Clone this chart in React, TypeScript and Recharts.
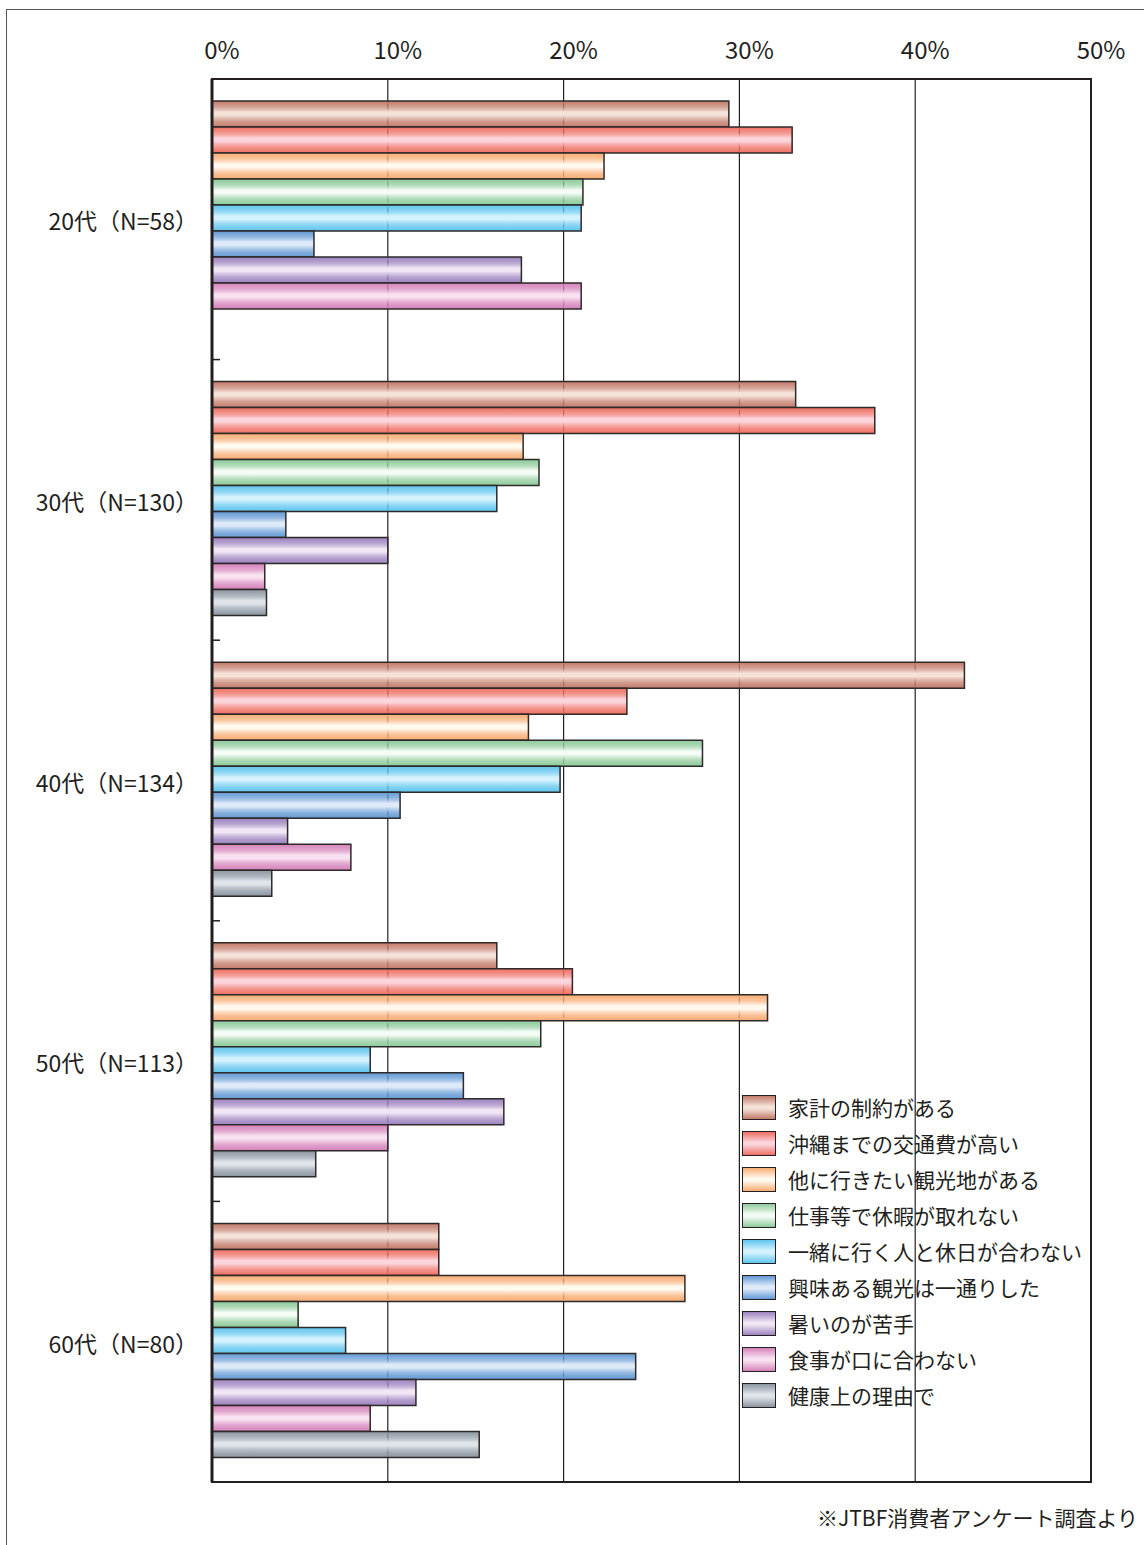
import React from 'react';
import { BarChart, Bar, XAxis, YAxis, CartesianGrid, ReferenceArea, Legend } from 'recharts';

const groups = ['20代（N=58）', '30代（N=130）', '40代（N=134）', '50代（N=113）', '60代（N=80）'];

const reasons = [
  '家計の制約がある',
  '沖縄までの交通費が高い',
  '他に行きたい観光地がある',
  '仕事等で休暇が取れない',
  '一緒に行く人と休日が合わない',
  '興味ある観光は一通りした',
  '暑いのが苦手',
  '食事が口に合わない',
  '健康上の理由で',
];

// % by age group (20代 .. 60代)
const kakei = [29.4, 33.2, 42.8, 16.2, 12.9];
const koutsuhi = [33.0, 37.7, 23.6, 20.5, 12.9];
const hokaNi = [22.3, 17.7, 18.0, 31.6, 26.9];
const shigoto = [21.1, 18.6, 27.9, 18.7, 4.9];
const issho = [21.0, 16.2, 19.8, 9.0, 7.6];
const kyomi = [5.8, 4.2, 10.7, 14.3, 24.1];
const atsui = [17.6, 10.0, 4.3, 16.6, 11.6];
const shokuji = [21.0, 3.0, 7.9, 10.0, 9.0];
const kenko = [0, 3.1, 3.4, 5.9, 15.2];

const xTicks = [0, 10, 20, 30, 40, 50];

const seriesValues = [kakei, koutsuhi, hokaNi, shigoto, issho, kyomi, atsui, shokuji, kenko];

// edge / light colours of the cylinder-shaded bars
const palette = [
  { edge: '#c27b6a', light: '#f4e1d8' },
  { edge: '#ee6f63', light: '#fcd4dc' },
  { edge: '#f7ad74', light: '#fff9f0' },
  { edge: '#8ecb9b', light: '#f5fbf5' },
  { edge: '#5fc5ee', light: '#d4f2fd' },
  { edge: '#6399d4', light: '#dfeaf9' },
  { edge: '#9d82bf', light: '#f0e6f4' },
  { edge: '#d582ba', light: '#f8e1f0' },
  { edge: '#8c96a1', light: '#dfe4e9' },
];

const data = groups.map((g, gi) => {
  const row: Record<string, any> = { group: g };
  reasons.forEach((r, ri) => {
    row[`s${ri}`] = seriesValues[ri][gi];
  });
  return row;
});

const W = 1144;
const H = 1545;
const PLOT_TOP = 79;
const PLOT_BOTTOM = 1482;
const PLOT_LEFT = 212;
const PLOT_RIGHT = 1091;
const BAND = (PLOT_BOTTOM - PLOT_TOP) / groups.length;
const INK = '#231f20';
const FONT = '"Noto Sans CJK JP", "Noto Sans", sans-serif';

function XTick({ x, y, payload }: any) {
  return (
    <text x={x + 10} y={y - 12} textAnchor="middle" fontSize={24} fill={INK} fontFamily={FONT}>
      {`${payload.value}%`}
    </text>
  );
}

function YTick({ x, y, payload, index }: any) {
  return (
    <g>
      <text
        x={x}
        y={y + 1}
        textAnchor="end"
        dominantBaseline="central"
        fontSize={23}
        fill={INK}
        fontFamily={FONT}
      >
        {payload.value}
      </text>
      {index < groups.length - 1 && (
        <line x1={PLOT_LEFT} x2={PLOT_LEFT + 8} y1={y + BAND / 2} y2={y + BAND / 2} stroke={INK} strokeWidth={1.5} />
      )}
    </g>
  );
}

function LegendBox() {
  return (
    <div style={{ fontFamily: FONT }}>
      {reasons.map((r, i) => (
        <div key={r} style={{ display: 'flex', alignItems: 'center', height: 36 }}>
          <div
            style={{
              width: 34,
              height: 25,
              boxSizing: 'border-box',
              border: `1.5px solid ${INK}`,
              background: `linear-gradient(to bottom, ${palette[i].edge} 0%, ${palette[i].light} 45%, ${palette[i].light} 55%, ${palette[i].edge} 100%)`,
            }}
          />
          <span style={{ marginLeft: 12, fontSize: 21, color: INK, whiteSpace: 'nowrap' }}>{r}</span>
        </div>
      ))}
    </div>
  );
}

export default function App() {
  return (
    <div style={{ position: 'absolute', left: 0, top: 0, width: W, height: H, background: '#fff' }}>
      <div
        style={{
          position: 'absolute',
          left: 6,
          top: 9,
          width: W - 6,
          height: H - 9,
          borderTop: '1.5px solid #555',
          borderLeft: '1.5px solid #555',
          boxSizing: 'border-box',
        }}
      />
      <div style={{ position: 'absolute', left: 0, top: 0 }}>
        <BarChart
          width={W}
          height={H}
          data={data}
          layout="vertical"
          barGap={0}
          barCategoryGap={22}
          margin={{ top: PLOT_TOP - 40, right: W - PLOT_RIGHT, bottom: H - PLOT_BOTTOM, left: 0 }}
        >
          <defs>
            {palette.map((p, i) => (
              <linearGradient key={i} id={`g${i}`} x1="0" y1="0" x2="0" y2="1">
                <stop offset="0%" stopColor={p.edge} />
                <stop offset="20%" stopColor={p.edge} stopOpacity={0.75} />
                <stop offset="42%" stopColor={p.light} />
                <stop offset="55%" stopColor={p.light} />
                <stop offset="82%" stopColor={p.edge} stopOpacity={0.8} />
                <stop offset="100%" stopColor={p.edge} />
              </linearGradient>
            ))}
          </defs>
          <CartesianGrid horizontal={false} stroke={INK} strokeWidth={1.2} />
          <XAxis
            type="number"
            orientation="top"
            domain={[0, 50]}
            ticks={xTicks}
            height={40}
            tickLine={false}
            axisLine={{ stroke: INK, strokeWidth: 2 }}
            tick={<XTick />}
            interval={0}
          />
          <YAxis
            type="category"
            dataKey="group"
            width={PLOT_LEFT}
            tickLine={false}
            tickSize={0}
            tickMargin={14}
            axisLine={{ stroke: INK, strokeWidth: 3 }}
            tick={<YTick />}
            interval={0}
          />
          <ReferenceArea x1={0} x2={50} fill="none" fillOpacity={0} stroke={INK} strokeWidth={2} />
          {reasons.map((r, i) => (
            <Bar
              key={r}
              dataKey={`s${i}`}
              name={r}
              fill={`url(#g${i})`}
              stroke="#2e2a2a"
              strokeWidth={1.5}
              isAnimationActive={false}
            />
          ))}
          <Legend
            layout="vertical"
            align="center"
            verticalAlign="middle"
            content={<LegendBox />}
            wrapperStyle={{ left: 742, top: 1089, width: 380, height: 330 }}
          />
        </BarChart>
      </div>
      <div
        style={{
          position: 'absolute',
          right: 6,
          top: 1502,
          fontSize: 21,
          color: INK,
          fontFamily: FONT,
          whiteSpace: 'nowrap',
        }}
      >
        ※JTBF消費者アンケート調査より
      </div>
    </div>
  );
}
